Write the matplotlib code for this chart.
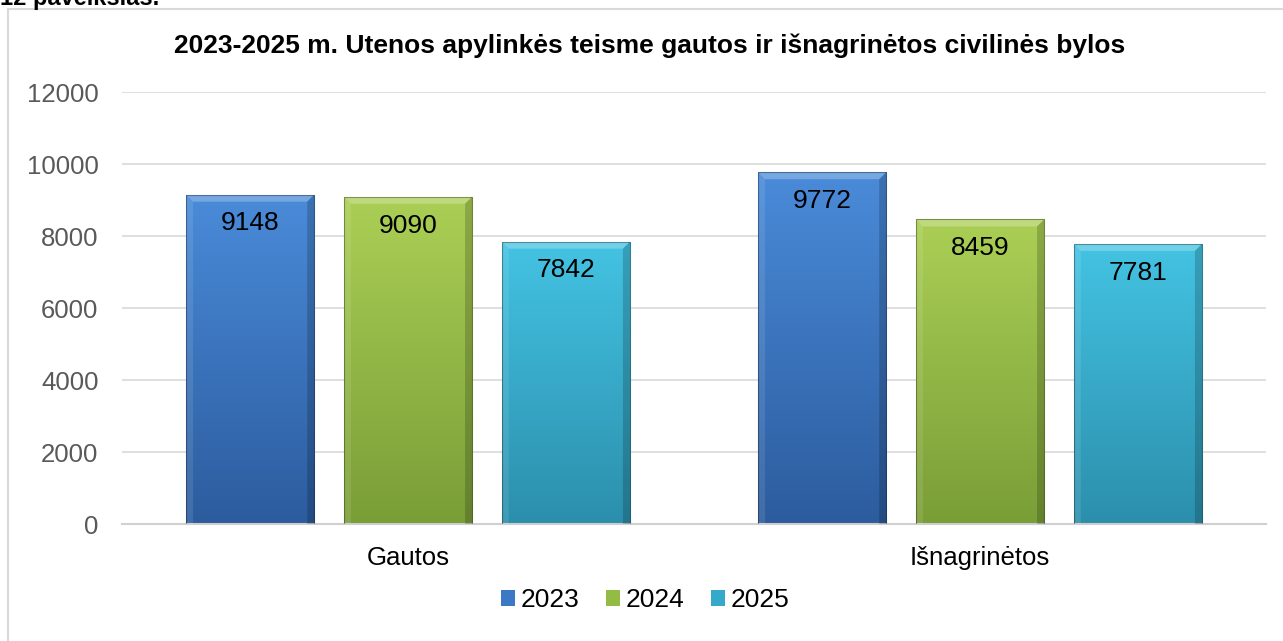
import numpy as np
import matplotlib.pyplot as plt
from matplotlib.patches import Patch, Polygon
from matplotlib.lines import Line2D
from matplotlib.colors import LinearSegmentedColormap

plt.rcParams['font.family'] = ['Liberation Sans', 'DejaVu Sans']

# data
categories = ['Gautos', 'Išnagrinėtos']
years = ['2023', '2024', '2025']
vals_2023 = [9148, 9772]
vals_2024 = [9090, 8459]
vals_2025 = [7842, 7781]
yticks = [0, 2000, 4000, 6000, 8000, 10000, 12000]

# (top colour, bottom colour) per series
colors = [('#4A8BD9', '#2C5C9E'), ('#ABCF55', '#7A9E37'), ('#44C3E3', '#2B8FAC')]
legend_colors = ['#3C78C4', '#94BC45', '#35A9C9']

W, H = 1283, 641
fig = plt.figure(figsize=(W / 100, H / 100), dpi=100)
fig.patch.set_facecolor('white')

# chart frame (left + top only visible)
fig.add_artist(Line2D([8 / W, 8 / W], [0, 1 - 9 / H], color='#D9D9D9', lw=1.5))
fig.add_artist(Line2D([8 / W, 1], [1 - 9 / H, 1 - 9 / H], color='#D9D9D9', lw=1.5))

# caption, cut off by the top edge like in the original
fig.text(0.0, 1 - 5 / H, '12 paveikslas.', fontsize=17, fontweight='bold',
         ha='left', va='baseline')

ax = fig.add_axes([122 / W, 1 - 524 / H, (1266 - 122) / W, (524 - 92) / H])

x = np.arange(len(categories))
width = 0.224
offsets = [-0.276, 0, 0.276]
series = [vals_2023, vals_2024, vals_2025]

bx = 7 / 572  # bevel size in data units (x)
by = 7 * 2000 / 72  # bevel size in data units (y)

for vals, off, (ctop, cbot) in zip(series, offsets, colors):
    bars = ax.bar(x + off, vals, width, color='none', edgecolor='none', zorder=2)
    cmap = LinearSegmentedColormap.from_list('g', [cbot, ctop])
    grad = np.linspace(0, 1, 256).reshape(-1, 1)
    for b, v in zip(bars, vals):
        x0, x1 = b.get_x(), b.get_x() + b.get_width()
        im = ax.imshow(grad, cmap=cmap, origin='lower', aspect='auto',
                       extent=[x0, x1, 0, v], zorder=2)
        im.set_clip_path(b)
        # bevel faces
        ax.add_patch(Polygon([[x0, v], [x1, v], [x1 - bx, v - by], [x0 + bx, v - by]],
                             closed=True, fc='white', alpha=0.25, ec='none', zorder=3))
        ax.add_patch(Polygon([[x0, 0], [x0, v], [x0 + bx, v - by], [x0 + bx, 0]],
                             closed=True, fc='white', alpha=0.1, ec='none', zorder=3))
        ax.add_patch(Polygon([[x1, 0], [x1, v], [x1 - bx, v - by], [x1 - bx, 0]],
                             closed=True, fc='black', alpha=0.18, ec='none', zorder=3))
        ax.add_patch(Polygon([[x0, 0], [x1, 0], [x1, v], [x0, v]], closed=True,
                             fc='none', ec='#00000055', lw=0.8, zorder=4))
        ax.text(b.get_x() + b.get_width() / 2, v - 800, str(v), ha='center',
                va='center', fontsize=19, color='black', zorder=5)

ax.set_xlim(-0.5, 1.5)
ax.set_ylim(0, 12000)
ax.set_yticks(yticks)
ax.set_yticklabels([str(t) for t in yticks])
ax.set_xticks(x)
ax.set_xticklabels(categories)
ax.tick_params(axis='y', length=0, pad=17, labelsize=18.5, labelcolor='#595959')
ax.tick_params(axis='x', length=0, pad=16, labelsize=18.5, labelcolor='black')
ax.grid(axis='y', color='#D9D9D9', lw=1.2, zorder=0)
ax.set_axisbelow(True)
for s in ['left', 'right', 'top']:
    ax.spines[s].set_visible(False)
ax.spines['bottom'].set_color('#D0D0D0')
ax.spines['bottom'].set_linewidth(1.5)

fig.text(650 / W, 1 - 46 / H,
         '2023-2025 m. Utenos apylinkės teisme gautos ir išnagrinėtos civilinės bylos',
         ha='center', va='center', fontsize=19, fontweight='bold')

handles = [Patch(facecolor=c, edgecolor='none') for c in legend_colors]
fig.legend(handles, years, loc='center', bbox_to_anchor=(645 / W, 1 - 600 / H),
           ncol=3, frameon=False, fontsize=19, handlelength=0.55, handleheight=0.55,
           handletextpad=0.2, columnspacing=1.0)

fig.savefig('out.png', dpi=100)
